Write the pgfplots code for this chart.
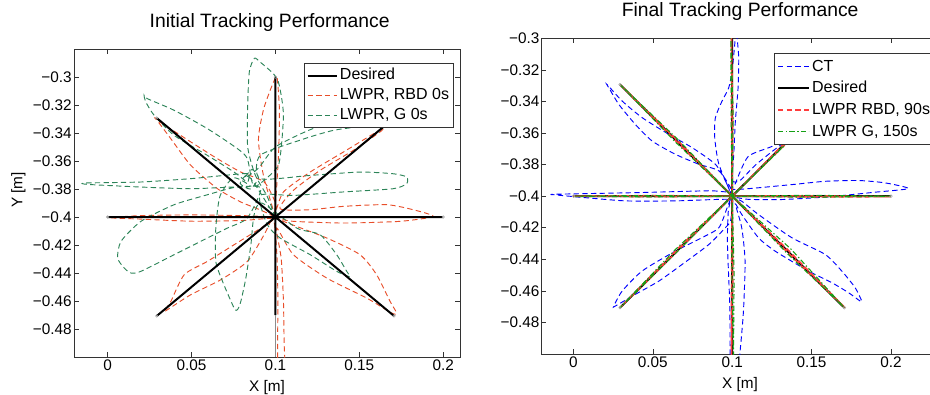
\documentclass[border=0pt]{standalone}
\usepackage{fontspec}
\setmainfont{Liberation Sans}
\usepackage{pgfplots}
\pgfplotsset{compat=1.18}
\definecolor{lred}{RGB}{232,78,42}
\definecolor{lgreen}{RGB}{44,132,88}
\definecolor{rred}{RGB}{255,60,60}
\definecolor{rgreen}{RGB}{20,160,20}
\definecolor{rblue}{RGB}{0,0,255}
\newcommand{\fs}{\fontsize{11.5}{13.8}\selectfont}
\newcommand{\fl}{\fontsize{12}{14}\selectfont}
\pgfplotsset{
  legend image code/.code={\draw[#1] (0pt,0pt) -- (22pt,0pt);},
}
\pgfplotsset{
  mystyle/.style={
    scale only axis, anchor=south west, clip=true,
    tick align=inside, major tick length=3.5pt,
    axis line style={black!80, line width=0.5pt},
    every tick/.style={black!80, line width=0.5pt},
    scaled ticks=false,
    tick label style={font=\fs},
    label style={font=\fs},
    xtick={0,0.05,0.1,0.15,0.2},
    xticklabels={0,0.05,0.1,0.15,0.2},
    ytick={-0.48,-0.46,-0.44,-0.42,-0.4,-0.38,-0.36,-0.34,-0.32,-0.3},
    yticklabels={−0.48,−0.46,−0.44,−0.42,−0.4,−0.38,−0.36,−0.34,−0.32,−0.3},
    yticklabel style={inner sep=1.5pt},
    xticklabel style={inner sep=2pt},
    title style={font=\fontsize{14.5}{17}\selectfont, anchor=base},
    legend cell align=left,
    xlabel={X [m]},
  },
  dsh/.style={dash pattern=on 4pt off 2.5pt},
}
\begin{document}
\fs
\begin{tikzpicture}
\useasboundingbox (0,0) rectangle (697.5pt,295.5pt);
% ---------------- left axis
\begin{axis}[mystyle,
  at={(55.5pt,27.75pt)}, width=289.5pt, height=231pt,
  xmin=-0.02, xmax=0.21, ymin=-0.5, ymax=-0.28,
  title={Initial Tracking Performance},
  title style={at={(0.507,1)}, yshift=10pt},
  ylabel={Y [m]},
  ylabel style={at={(axis description cs:-0.144,0.542)}, anchor=center},
  xlabel style={at={(axis description cs:0.5,-0.1)}, anchor=center},
  legend style={at={(0.9826,0.9536)}, anchor=north east, draw=black!80, fill=white,
    font=\fl, inner xsep=1.5pt, inner ysep=1.5pt, row sep=0pt,
    nodes={font=\fl, inner sep=1.5pt, text height=9.3pt, text depth=2.7pt}},
]
\addplot[draw=black, line width=1.5pt] coordinates {(0.1,-0.4)(0.1,-0.4)};
\addlegendentry{Desired}
\addplot[draw=lred, line width=0.7pt, dsh, smooth, tension=0.4] coordinates {
(0.1,-0.4)(0.093,-0.371)(0.0899,-0.3448)(0.0929,-0.3233)(0.0978,-0.3067)(0.1004,-0.300)
(0.1012,-0.3019)(0.1024,-0.3233)(0.1020,-0.3519)(0.1008,-0.3781)(0.0998,-0.397)
(0.1048,-0.3821)(0.1207,-0.3679)(0.1405,-0.3536)(0.1563,-0.3421)(0.1643,-0.3364)
(0.1623,-0.3393)(0.1464,-0.3524)(0.1266,-0.3667)(0.1107,-0.3810)(0.1028,-0.3941)
(0.1207,-0.3948)(0.1405,-0.3924)(0.1663,-0.3912)(0.1821,-0.3948)(0.1940,-0.3996)
(0.1742,-0.4031)(0.1405,-0.4043)(0.1107,-0.4031)(0.1008,-0.4012)
(0.1306,-0.4150)(0.1504,-0.4269)(0.1603,-0.4412)(0.1683,-0.4602)(0.1722,-0.4685)
(0.1693,-0.4686)(0.1544,-0.4579)(0.1306,-0.4436)(0.1107,-0.4269)(0.1008,-0.4079)
(0.1035,-0.43)(0.1048,-0.46)(0.1052,-0.49)(0.1055,-0.505)
(0.1015,-0.505)(0.1015,-0.46)(0.101,-0.43)(0.0995,-0.405)
(0.0973,-0.4031)(0.0933,-0.4126)(0.0833,-0.4317)(0.0675,-0.4448)(0.0496,-0.4555)(0.0357,-0.4662)
(0.0338,-0.4674)(0.0377,-0.4603)(0.0457,-0.4412)(0.0595,-0.4317)(0.0754,-0.4198)(0.0913,-0.4079)(0.099,-0.401)
(0.08,-0.4025)(0.05,-0.403)(0.02,-0.4015)(0.002,-0.4005)(0.02,-0.399)(0.05,-0.3985)(0.08,-0.399)(0.098,-0.3995)
(0.0893,-0.3941)(0.0794,-0.3893)(0.0655,-0.3798)(0.0496,-0.3631)(0.0377,-0.3441)(0.0288,-0.3298)
(0.0298,-0.3310)(0.0496,-0.3464)(0.0655,-0.3584)(0.0794,-0.3679)(0.0933,-0.3750)(0.1,-0.39)(0.1,-0.4)
};
\addlegendentry{LWPR, RBD 0s}
\addplot[draw=lgreen, line width=0.7pt, dsh, smooth, tension=0.4] coordinates {
(0.1,-0.4)(0.095,-0.385)(0.088,-0.37)(0.0835,-0.35)(0.0835,-0.32)(0.0845,-0.296)(0.0875,-0.2866)
(0.0909,-0.2893)(0.0988,-0.2976)(0.1018,-0.3036)(0.1038,-0.3155)(0.1048,-0.3274)(0.1038,-0.3464)(0.1018,-0.3631)(0.095,-0.372)(0.087,-0.378)
(0.0833,-0.3584)(0.0774,-0.3512)(0.0595,-0.3369)(0.0397,-0.3238)(0.0238,-0.3155)(0.0218,-0.3131)
(0.0228,-0.3179)(0.0278,-0.3274)(0.0397,-0.3417)(0.0595,-0.3560)(0.0754,-0.3679)(0.0833,-0.3750)
(0.0833,-0.3691)(0.0695,-0.3703)(0.0496,-0.3726)(0.0199,-0.3750)(-0.0129,-0.3757)
(-0.0119,-0.3767)(0.0199,-0.3786)(0.0496,-0.3798)(0.0754,-0.3786)(0.0913,-0.3793)
(0.0833,-0.4007)(0.0714,-0.4079)(0.0595,-0.4150)(0.0397,-0.4269)(0.0199,-0.4388)(0.0139,-0.4400)
(0.0099,-0.4364)(0.0060,-0.4293)(0.0080,-0.4174)(0.0199,-0.4031)(0.0397,-0.3912)(0.0595,-0.3841)(0.075,-0.379)(0.085,-0.378)
(0.075,-0.372)(0.067,-0.385)(0.0645,-0.4079)(0.0645,-0.4317)(0.0685,-0.4460)(0.0754,-0.4650)
(0.0774,-0.4662)(0.0794,-0.4603)(0.0824,-0.4436)(0.0854,-0.4198)(0.0873,-0.3984)(0.092,-0.39)
(0.1127,-0.4079)(0.1266,-0.4126)(0.1365,-0.4269)(0.1425,-0.4388)(0.1445,-0.4424)
(0.1435,-0.4424)(0.1365,-0.4388)(0.1207,-0.4269)(0.1028,-0.4150)(0.095,-0.405)
(0.0909,-0.3846)(0.1107,-0.3846)(0.1405,-0.3821)(0.1702,-0.3798)(0.1782,-0.3762)
(0.1782,-0.3714)(0.1702,-0.3691)(0.1504,-0.3679)(0.1207,-0.3703)(0.0909,-0.3726)
(0.0909,-0.356)(0.115,-0.345)(0.135,-0.338)(0.16,-0.334)(0.18,-0.33)(0.19,-0.325)
(0.17,-0.325)(0.14,-0.33)(0.12,-0.338)(0.1,-0.35)(0.09,-0.365)
(0.082,-0.372)(0.086,-0.366)(0.09,-0.372)(0.085,-0.38)(0.079,-0.376)(0.083,-0.37)(0.088,-0.377)(0.1,-0.4)
};
\addlegendentry{LWPR, G 0s}
\addplot[only marks, mark=o, mark size=1pt, draw=black!35, forget plot] coordinates {
(0.1,-0.3)(0.1707,-0.3293)(0.2,-0.4)(0.1707,-0.4707)(0.0293,-0.4707)(0,-0.4)(0.0293,-0.3293)};
\addplot[draw=black, line width=1.5pt, forget plot] coordinates {
(0.1,-0.4)(0.1,-0.3)(0.1,-0.4)(0.1707,-0.3293)(0.1,-0.4)(0.2,-0.4)(0.1,-0.4)(0.1707,-0.4707)
(0.1,-0.4)(0.1,-0.47)(0.1,-0.4)(0.0293,-0.4707)(0.1,-0.4)(0,-0.4)(0.1,-0.4)(0.0293,-0.3293)(0.1,-0.4)};
\addplot[draw=black!45, line width=1.3pt, forget plot] coordinates {(0.1,-0.47)(0.1,-0.5)};
\end{axis}
% ---------------- right axis
\begin{axis}[mystyle,
  at={(406.3pt,30pt)}, width=297.6pt, height=236.8pt,
  xmin=-0.02, xmax=0.23, ymin=-0.5, ymax=-0.3,
  title={Final Tracking Performance},
  title style={at={(0.5,1)}, yshift=10.5pt},
  xlabel style={at={(axis description cs:0.4997,-0.097)}, anchor=center},
  legend style={at={(0.992,0.9525)}, anchor=north east, draw=black!80, fill=white,
    font=\fl, inner xsep=2pt, inner ysep=1.5pt, row sep=0pt,
    nodes={font=\fl, inner sep=1.8pt, text height=9.8pt, text depth=2.9pt}},
  legend image code/.code={\draw[#1] (0pt,0pt) -- (23pt,0pt);},
]
\addplot[draw=rblue, line width=0.7pt, dsh, smooth, tension=0.4] coordinates {
(0.1,-0.4)(0.0916,-0.3798)(0.0890,-0.3630)(0.0894,-0.3503)(0.0936,-0.3398)(0.0978,-0.3314)(0.0999,-0.3208)(0.1015,-0.305)(0.1025,-0.293)
(0.1031,-0.2998)(0.1041,-0.3124)(0.1037,-0.3314)(0.1020,-0.3524)(0.1010,-0.3735)(0.1,-0.39)
(0.105,-0.39)(0.115,-0.38)(0.13,-0.368)(0.15,-0.354)(0.165,-0.34)(0.175,-0.328)
(0.16,-0.338)(0.14,-0.36)(0.125,-0.3685)(0.11,-0.375)(0.102,-0.392)
(0.1018,-0.3958)(0.1375,-0.3927)(0.1585,-0.3906)(0.1795,-0.3901)(0.1963,-0.3916)(0.2110,-0.3952)
(0.19,-0.3975)(0.16,-0.4005)(0.13,-0.4022)(0.11,-0.402)(0.1,-0.4005)
(0.1060,-0.4032)(0.1165,-0.4116)(0.1375,-0.4263)(0.1585,-0.4369)(0.1690,-0.4474)(0.1774,-0.4579)(0.1816,-0.4664)
(0.1805,-0.4664)(0.1732,-0.4611)(0.1627,-0.4548)(0.1480,-0.4474)(0.1270,-0.4348)(0.1165,-0.4263)(0.1060,-0.4116)(0.102,-0.405)
(0.1060,-0.42)(0.1081,-0.4411)(0.1071,-0.4727)(0.1050,-0.498)(0.104,-0.505)
(0.099,-0.505)(0.0985,-0.47)(0.097,-0.43)(0.0975,-0.41)(0.099,-0.402)
(0.0968,-0.4074)(0.0916,-0.4200)(0.0810,-0.4263)(0.0642,-0.4348)(0.0433,-0.4474)(0.0307,-0.4601)(0.0254,-0.4696)
(0.0264,-0.4696)(0.0390,-0.4622)(0.0538,-0.4538)(0.0685,-0.4432)(0.0853,-0.4306)(0.0957,-0.4200)(0.0989,-0.4158)(0.1,-0.405)
(0.0979,-0.4020)(0.0642,-0.4030)(0.0327,-0.4030)(0.0013,-0.4004)(-0.0113,-0.3992)
(-0.0113,-0.3988)(0.0433,-0.3977)(0.0853,-0.3966)(0.0979,-0.3971)
(0.0957,-0.3903)(0.0894,-0.3798)(0.0748,-0.3693)(0.0601,-0.3609)(0.0433,-0.3503)(0.0307,-0.3398)(0.0212,-0.3293)
(0.0223,-0.3314)(0.0286,-0.3419)(0.0390,-0.3546)(0.0496,-0.3651)(0.0642,-0.3735)(0.0790,-0.3798)(0.0916,-0.3840)(0.0989,-0.3946)(0.1,-0.4)
};
\addlegendentry{CT}
\addplot[only marks, mark=o, mark size=1pt, draw=black!35, forget plot] coordinates {
(0.1707,-0.3293)(0.2,-0.4)(0.1707,-0.4707)(0.0293,-0.4707)(0,-0.4)(0.0293,-0.3293)};
\addplot[draw=black, line width=1.5pt] coordinates {
(0.1,-0.4)(0.1,-0.3)(0.1,-0.4)(0.1707,-0.3293)(0.1,-0.4)(0.2,-0.4)(0.1,-0.4)(0.1707,-0.4707)
(0.1,-0.4)(0.1,-0.5)(0.1,-0.4)(0.0293,-0.4707)(0.1,-0.4)(0,-0.4)(0.1,-0.4)(0.0293,-0.3293)(0.1,-0.4)};
\addlegendentry{Desired}
\addplot[draw=rred, line width=1.2pt, dsh] coordinates {
(0.1,-0.4)(0.0997,-0.35)(0.0995,-0.298)(0.1003,-0.35)(0.1,-0.4)
(0.1355,-0.3652)(0.1707,-0.3293)(0.1352,-0.3642)(0.1,-0.4)
(0.15,-0.4005)(0.2,-0.4003)(0.15,-0.3998)(0.1,-0.4)
(0.1358,-0.4348)(0.171,-0.4707)(0.1352,-0.4360)(0.1,-0.4)
(0.0996,-0.45)(0.0995,-0.505)(0.1004,-0.45)(0.1,-0.4)
(0.0648,-0.4355)(0.0293,-0.4707)(0.0645,-0.4345)(0.1,-0.4)
(0.05,-0.4003)(0,-0.4)(0.05,-0.3997)(0.1,-0.4)
(0.0645,-0.3650)(0.0293,-0.3293)(0.0650,-0.3642)(0.1,-0.4)
};
\addlegendentry{LWPR RBD, 90s}
\addplot[draw=rgreen, line width=0.8pt, dash pattern=on 4pt off 1.8pt on 1pt off 1.8pt] coordinates {
(0.1,-0.4)(0.0993,-0.35)(0.0992,-0.3)(0.1006,-0.35)(0.1,-0.4)
(0.1350,-0.3660)(0.1707,-0.3293)(0.1365,-0.3640)(0.1,-0.4)
(0.15,-0.4007)(0.2,-0.4)(0.15,-0.3995)(0.1,-0.4)
(0.1370,-0.4335)(0.1707,-0.4707)(0.1345,-0.4362)(0.1,-0.4)
(0.1012,-0.45)(0.1008,-0.505)(0.0998,-0.45)(0.1,-0.4)
(0.0655,-0.4350)(0.0293,-0.4707)(0.0640,-0.4340)(0.1,-0.4)
(0.05,-0.4005)(0,-0.4)(0.05,-0.3996)(0.1,-0.4)
(0.0640,-0.3655)(0.0293,-0.3293)(0.0655,-0.3638)(0.1,-0.4)
};
\addlegendentry{LWPR G, 150s}
\end{axis}
\end{tikzpicture}
\end{document}
